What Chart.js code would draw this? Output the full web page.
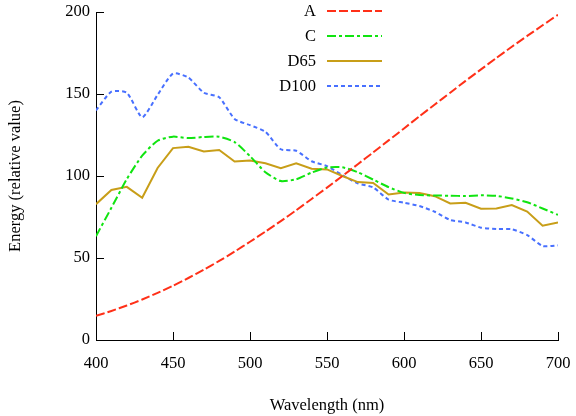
<!DOCTYPE html>
<html>
<head>
<meta charset="utf-8">
<script src="https://cdn.jsdelivr.net/npm/chart.js@4"></script>
<style>
  html, body { margin: 0; padding: 0; background: #fff; }
  #wrap { width: 576px; height: 416px; }
</style>
</head>
<body>
<div id="wrap"><canvas id="chart" width="576" height="416"></canvas></div>
<script>
// wavelengths (nm), 10 nm steps
const wavelengths = [400, 410, 420, 430, 440, 450, 460, 470, 480, 490, 500, 510, 520, 530, 540, 550,
    560, 570, 580, 590, 600, 610, 620, 630, 640, 650, 660, 670, 680, 690, 700];

const illumA = [14.7, 17.7, 21.0, 24.7, 28.7, 33.1, 37.8, 42.9, 48.2, 53.9, 59.9, 66.1, 72.5, 79.1, 86.0, 92.9,
    100.0, 107.2, 114.4, 121.7, 129.0, 136.4, 143.6, 150.8, 158.0, 165.0, 172.0, 178.8, 185.4, 191.9, 198.3];

const illumC = [63.3, 80.6, 98.1, 112.4, 121.5, 124.0, 123.1, 123.8, 123.9, 120.7, 112.1, 102.3, 96.9, 98.0, 102.1, 105.2,
    105.3, 102.3, 97.8, 93.2, 89.7, 88.4, 88.1, 88.0, 87.8, 88.2, 87.9, 86.3, 84.0, 80.2, 76.3];

const illumD65 = [82.8, 91.5, 93.4, 86.7, 104.9, 117.0, 117.8, 114.9, 115.9, 108.8, 109.4, 107.8, 104.8, 107.7, 104.4, 104.0,
    100.0, 96.3, 95.8, 88.7, 90.0, 89.6, 87.7, 83.3, 83.7, 80.0, 80.2, 82.3, 78.3, 69.7, 71.6];

const illumD100 = [140.0, 151.4, 150.8, 135.8, 149.5, 162.5, 160.0, 150.8, 148.0, 134.8, 131.0, 127.0, 116.3, 115.4, 109.0, 106.0,
    100.5, 95.5, 93.0, 85.6, 83.7, 81.7, 78.2, 73.2, 71.7, 68.5, 67.7, 67.5, 64.0, 57.3, 57.7];

const xTicks = [400, 450, 500, 550, 600, 650, 700];
const yTicks = [0, 50, 100, 150, 200];

const serif = '"Liberation Serif", "DejaVu Serif", serif';

function toPoints(values) {
    return values.map((v, i) => ({ x: wavelengths[i], y: v }));
}

const series = [
    { label: 'A', data: illumA, color: 'rgb(255, 48, 24)', dash: [9, 3] },
    { label: 'C', data: illumC, color: 'rgb(16, 228, 16)', dash: [9, 3, 3, 3] },
    { label: 'D65', data: illumD65, color: 'rgb(200, 158, 24)', dash: [] },
    { label: 'D100', data: illumD100, color: 'rgb(72, 112, 255)', dash: [4, 3] }
];

// inward tick marks on the left and bottom axes
const innerTicks = {
    id: 'innerTicks',
    afterDraw(chart) {
        const ctx = chart.ctx;
        const xs = chart.scales.x;
        const ys = chart.scales.y;
        const area = chart.chartArea;
        ctx.save();
        ctx.strokeStyle = '#000';
        ctx.lineWidth = 1;
        ctx.beginPath();
        xTicks.forEach(t => {
            const px = Math.round(xs.getPixelForValue(t)) + 0.5;
            ctx.moveTo(px, area.bottom);
            ctx.lineTo(px, area.bottom - 8);
        });
        yTicks.forEach(t => {
            const py = Math.round(ys.getPixelForValue(t)) + 0.5;
            ctx.moveTo(area.left, py);
            ctx.lineTo(area.left + 8, py);
        });
        ctx.stroke();
        ctx.restore();
    }
};

// legend: label text then line sample, top centre
const sampleLegend = {
    id: 'sampleLegend',
    afterDraw(chart) {
        const ctx = chart.ctx;
        ctx.save();
        ctx.font = '16.5px ' + serif;
        ctx.textAlign = 'right';
        ctx.textBaseline = 'middle';
        chart.data.datasets.forEach((ds, i) => {
            const y = 11 + i * 25;
            ctx.fillStyle = '#000';
            ctx.fillText(ds.label, 316, y + 1);
            ctx.strokeStyle = ds.borderColor;
            ctx.lineWidth = 2;
            ctx.setLineDash(ds.borderDash);
            ctx.beginPath();
            ctx.moveTo(327, y);
            ctx.lineTo(382, y);
            ctx.stroke();
        });
        ctx.restore();
    }
};

new Chart(document.getElementById('chart'), {
    type: 'line',
    data: {
        datasets: series.map(s => ({
            label: s.label,
            data: toPoints(s.data),
            borderColor: s.color,
            backgroundColor: s.color,
            borderDash: s.dash,
            borderWidth: 2,
            pointRadius: 0,
            tension: s.label === 'D65' ? 0 : 0.2,
            fill: false
        }))
    },
    options: {
        responsive: false,
        animation: false,
        layout: { padding: { top: 12, right: 18, left: 0, bottom: 0 } },
        plugins: {
            legend: { display: false },
            tooltip: { enabled: false }
        },
        scales: {
            x: {
                type: 'linear',
                min: 400,
                max: 700,
                afterBuildTicks: s => { s.ticks = xTicks.map(v => ({ value: v })); },
                afterFit: s => { s.height = 76; s.paddingLeft = 0; s.paddingRight = 0; },
                grid: { display: false, drawTicks: false },
                border: { display: true, color: '#000', width: 1 },
                ticks: { color: '#000', padding: 14, font: { family: serif, size: 16.5 } },
                title: {
                    display: true,
                    text: 'Wavelength (nm)',
                    color: '#000',
                    font: { family: serif, size: 16.5 },
                    padding: { top: 18, bottom: 0 }
                }
            },
            y: {
                min: 0,
                max: 200,
                afterBuildTicks: s => { s.ticks = yTicks.map(v => ({ value: v })); },
                afterFit: s => { s.width = 96; s.paddingTop = 0; s.paddingBottom = 0; },
                grid: { display: false, drawTicks: false },
                border: { display: true, color: '#000', width: 1 },
                ticks: { color: '#000', padding: 6, font: { family: serif, size: 16.5 } },
                title: {
                    display: true,
                    text: 'Energy (relative value)',
                    color: '#000',
                    font: { family: serif, size: 16.5 },
                    padding: { top: 6, bottom: 0 }
                }
            }
        }
    },
    plugins: [innerTicks, sampleLegend]
});
</script>
</body>
</html>
